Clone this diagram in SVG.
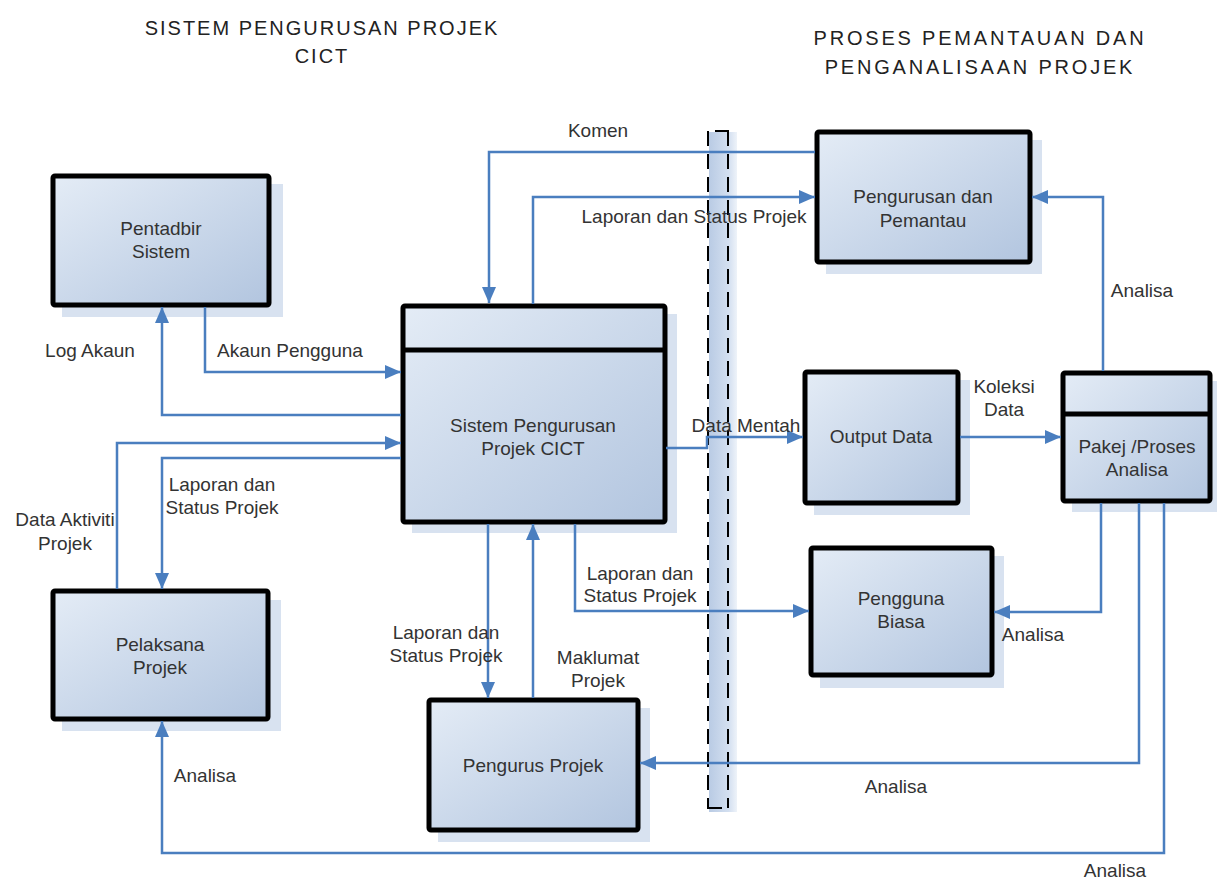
<svg xmlns="http://www.w3.org/2000/svg" width="1217" height="879" viewBox="0 0 1217 879">
  <defs>
    <linearGradient id="boxFill" x1="0" y1="0" x2="1" y2="1">
      <stop offset="0" stop-color="#e4ecf6"/>
      <stop offset="1" stop-color="#b2c5df"/>
    </linearGradient>
    <linearGradient id="barFill" x1="0" y1="0" x2="1" y2="0">
      <stop offset="0" stop-color="#b9cbe4"/>
      <stop offset="0.7" stop-color="#d3dff0"/>
      <stop offset="1" stop-color="#eef3f9"/>
    </linearGradient>
    <marker id="arrow" viewBox="0 0 16 14" refX="16" refY="7" markerWidth="16" markerHeight="14" markerUnits="userSpaceOnUse" orient="auto">
      <path d="M0,0 L16,7 L0,14 z" fill="#4a7ebf"/>
    </marker>
  </defs>
  <style>
    .shadow { fill: #d8e2f0; }
    .box { fill: url(#boxFill); stroke: #000; stroke-width: 5; }
    .divider { stroke: #000; stroke-width: 5; }
    .node-text { font-family: "Liberation Sans", Arial, sans-serif; font-size: 19px; fill: #333; text-anchor: middle; }
    .label { font-family: "Liberation Sans", Arial, sans-serif; font-size: 19px; fill: #333; text-anchor: middle; }
    .title { font-family: "Liberation Sans", Arial, sans-serif; font-size: 20px; letter-spacing: 2px; fill: #222; text-anchor: middle; }
    .title.wide { letter-spacing: 2.8px; }
    .link { fill: none; stroke: #4a7ebf; stroke-width: 2.5; marker-end: url(#arrow); }
    .dash { stroke: #000; stroke-width: 2; stroke-dasharray: 15 8; }
  </style>

  <rect width="1217" height="879" fill="#fff"/>

  <!-- headings -->
  <g id="headings">
    <text class="title" x="322" y="35">SISTEM PENGURUSAN PROJEK</text>
    <text class="title" x="322" y="63">CICT</text>
    <text class="title wide" x="980" y="45">PROSES PEMANTAUAN DAN</text>
    <text class="title wide" x="980" y="74">PENGANALISAAN PROJEK</text>
  </g>

  <!-- system boundary -->
  <g id="boundary">
    <rect x="709" y="132" width="28" height="680" fill="url(#barFill)"/>
    <line class="dash" x1="708" y1="131" x2="708" y2="808"/>
    <line class="dash" x1="728" y1="131" x2="728" y2="808"/>
    <line x1="715" y1="131" x2="729" y2="131" stroke="#000" stroke-width="2"/>
    <line x1="707" y1="808" x2="722" y2="808" stroke="#000" stroke-width="2"/>
  </g>

  <!-- nodes -->
  <g id="pentadbir">
    <rect class="shadow" x="62" y="184" width="221" height="133"/>
    <rect class="box" x="53" y="176" width="216" height="129" rx="2"/>
    <text class="node-text" x="161" y="235">Pentadbir</text>
    <text class="node-text" x="161" y="258">Sistem</text>
  </g>

  <g id="sistem">
    <rect class="shadow" x="412" y="314" width="265" height="219"/>
    <rect class="box" x="403" y="306" width="262" height="216" rx="2"/>
    <line class="divider" x1="403" y1="350" x2="665" y2="350"/>
    <text class="node-text" x="533" y="432">Sistem Pengurusan</text>
    <text class="node-text" x="533" y="455">Projek CICT</text>
  </g>

  <g id="pemantau">
    <rect class="shadow" x="826" y="140" width="216" height="134"/>
    <rect class="box" x="817" y="132" width="213" height="130" rx="2"/>
    <text class="node-text" x="923" y="203">Pengurusan dan</text>
    <text class="node-text" x="923" y="227">Pemantau</text>
  </g>

  <g id="output">
    <rect class="shadow" x="814" y="380" width="156" height="135"/>
    <rect class="box" x="805" y="372" width="153" height="131" rx="2"/>
    <text class="node-text" x="881" y="443">Output Data</text>
  </g>

  <g id="analisa">
    <rect class="shadow" x="1072" y="381" width="150" height="131"/>
    <rect class="box" x="1063" y="373" width="147" height="128" rx="2"/>
    <line class="divider" x1="1063" y1="414" x2="1210" y2="414"/>
    <text class="node-text" x="1137" y="453">Pakej /Proses</text>
    <text class="node-text" x="1137" y="476">Analisa</text>
  </g>

  <g id="pengguna">
    <rect class="shadow" x="820" y="556" width="184" height="132"/>
    <rect class="box" x="811" y="548" width="181" height="127" rx="2"/>
    <text class="node-text" x="901" y="605">Pengguna</text>
    <text class="node-text" x="901" y="628">Biasa</text>
  </g>

  <g id="pelaksana">
    <rect class="shadow" x="62" y="600" width="219" height="131"/>
    <rect class="box" x="53" y="591" width="215" height="128" rx="2"/>
    <text class="node-text" x="160" y="651">Pelaksana</text>
    <text class="node-text" x="160" y="674">Projek</text>
  </g>

  <g id="pengurus">
    <rect class="shadow" x="438" y="708" width="212" height="134"/>
    <rect class="box" x="429" y="700" width="209" height="130" rx="2"/>
    <text class="node-text" x="533" y="772">Pengurus Projek</text>
  </g>

  <!-- connectors -->
  <g id="connectors">
    <polyline class="link" points="815,152 489,152 489,303"/>
    <polyline class="link" points="533,304 533,197 815,197"/>
    <polyline class="link" points="401,415 162,415 162,307"/>
    <polyline class="link" points="205,307 205,372 401,372"/>
    <polyline class="link" points="117,589 117,443 401,443"/>
    <polyline class="link" points="401,458 162,458 162,589"/>
    <polyline class="link" points="666,448 707,448 707,437 803,437"/>
    <polyline class="link" points="960,437 1061,437"/>
    <polyline class="link" points="1103,371 1103,197 1032,197"/>
    <polyline class="link" points="575,524 575,611 809,611"/>
    <polyline class="link" points="1101,503 1101,612 994,612"/>
    <polyline class="link" points="488,524 488,698"/>
    <polyline class="link" points="533,698 533,524"/>
    <polyline class="link" points="1139,503 1139,763 640,763"/>
    <polyline class="link" points="1164,503 1164,853 162,853 162,721"/>
  </g>

  <!-- connector labels -->
  <g id="labels">
    <text class="label" x="598" y="137">Komen</text>
    <text class="label" x="694" y="223">Laporan dan Status Projek</text>
    <text class="label" x="90" y="357">Log Akaun</text>
    <text class="label" x="290" y="357">Akaun Pengguna</text>
    <text class="label" x="65" y="526">Data Aktiviti</text>
    <text class="label" x="65" y="550">Projek</text>
    <text class="label" x="222" y="491">Laporan dan</text>
    <text class="label" x="222" y="514">Status Projek</text>
    <text class="label" x="746" y="432">Data Mentah</text>
    <text class="label" x="1004" y="393">Koleksi</text>
    <text class="label" x="1004" y="416">Data</text>
    <text class="label" x="1142" y="297">Analisa</text>
    <text class="label" x="640" y="580">Laporan dan</text>
    <text class="label" x="640" y="602">Status Projek</text>
    <text class="label" x="1033" y="641">Analisa</text>
    <text class="label" x="446" y="639">Laporan dan</text>
    <text class="label" x="446" y="662">Status Projek</text>
    <text class="label" x="598" y="664">Maklumat</text>
    <text class="label" x="598" y="687">Projek</text>
    <text class="label" x="896" y="793">Analisa</text>
    <text class="label" x="1115" y="877">Analisa</text>
    <text class="label" x="205" y="782">Analisa</text>
  </g>
</svg>
